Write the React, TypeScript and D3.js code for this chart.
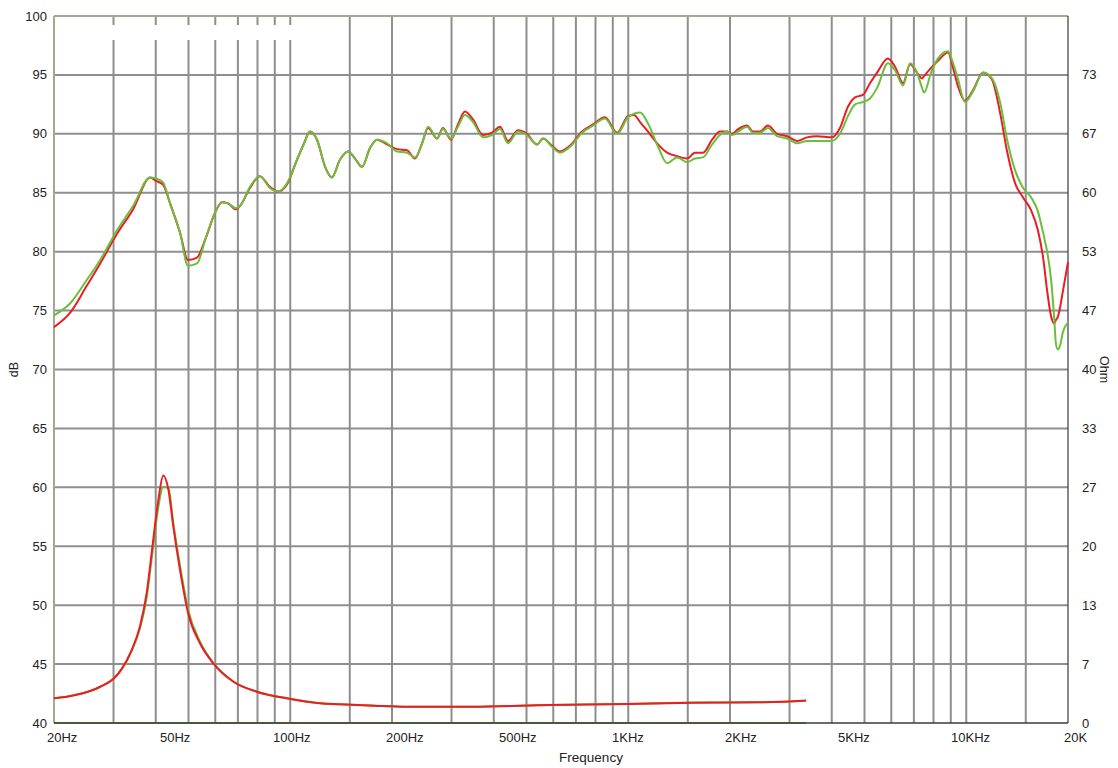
import React from "react";
import * as d3 from "d3";

// ---------- data ----------
const SPL_FREQ = [
  20, 22.3, 25.0, 27.4, 30.7, 34.3, 38.5, 40.1, 42.0, 44.1,
  47.2, 49.8, 53.0, 56.3, 59.9, 62.8, 65.4, 69.1, 71.5, 76.0,
  81.3, 87.1, 92.0, 97.8, 104.7, 109.9, 114.3, 120, 126.8, 132.8,
  140.3, 148.3, 155.5, 163, 172.2, 180.6, 193.3, 207, 221.5, 234,
  245.5, 255.8, 271.9, 283, 299, 313.4, 328.8, 347.5, 371.8, 395.3,
  417.4, 440.8, 472, 501, 537, 560, 594.5, 628, 673, 730,
  787, 853, 927, 998, 1040, 1084, 1143, 1225, 1303, 1395,
  1493, 1575, 1664, 1770, 1867, 1959, 2028, 2114, 2245, 2340,
  2456, 2590, 2756, 2952, 3158, 3380, 3615, 4008, 4230, 4466,
  4690, 4947, 5190, 5448, 5866, 6156, 6501, 6820, 7150, 7400,
  7500, 7870, 8250, 8835, 9140, 9460, 9910, 10470, 11220, 11920,
  12590, 13210, 13950, 14730, 15560, 16300, 16880, 17350, 17830, 18200,
  18420, 18680, 18930, 19330, 20000,
];

const SPL_RED = [
  73.6, 74.8, 77.1, 79.0, 81.5, 83.6, 86.3, 86.0, 85.7, 84.1,
  81.6, 79.3, 79.5, 81.2, 83.3, 84.2, 84.1, 83.6, 84.0, 85.4,
  86.4, 85.5, 85.1, 85.7, 87.8, 89.2, 90.2, 89.5, 87.2, 86.3,
  87.8, 88.5, 87.9, 87.2, 88.8, 89.5, 89.1, 88.7, 88.6, 87.9,
  89.2, 90.5, 89.6, 90.5, 89.5, 90.8, 91.9, 91.2, 89.9, 90.1,
  90.6, 89.4, 90.3, 90.0, 89.1, 89.6, 89.0, 88.5, 89.0, 90.2,
  90.8, 91.4, 90.1, 91.5, 91.6, 91.0, 90.2, 89.1, 88.4, 88.1,
  87.9, 88.4, 88.4, 89.5, 90.2, 90.2, 90.0, 90.4, 90.7, 90.2,
  90.2, 90.7, 90.0, 89.8, 89.4, 89.7, 89.8, 89.7, 90.5, 92.3,
  93.1, 93.3, 94.3, 95.2, 96.4, 95.7, 94.3, 95.9, 95.2, 94.7,
  94.9, 95.6, 96.2, 96.9, 95.6, 94.0, 92.8, 93.7, 95.2, 94.6,
  91.8, 88.5, 85.8, 84.6, 83.5, 81.8, 79.5, 76.7, 74.5, 73.9,
  74.2, 74.5, 75.2, 76.7, 79.1,
];

const SPL_GREEN = [
  74.6, 75.6, 77.6, 79.3, 81.8, 83.9, 86.3, 86.2, 85.9, 84.1,
  81.6, 78.8, 79.0, 81.2, 83.3, 84.2, 84.1, 83.7, 84.0, 85.5,
  86.4, 85.4, 85.1, 85.8, 87.8, 89.2, 90.2, 89.5, 87.2, 86.3,
  87.8, 88.5, 87.9, 87.2, 88.8, 89.5, 89.2, 88.5, 88.4, 88.0,
  89.2, 90.6, 89.6, 90.4, 89.6, 90.6, 91.6, 91.0, 89.7, 89.9,
  90.4, 89.2, 90.2, 89.9, 89.1, 89.6, 88.9, 88.4, 88.9, 90.1,
  90.7, 91.3, 90.0, 91.4, 91.7, 91.8, 90.9, 88.9, 87.5, 88.0,
  87.6, 87.9, 88.0, 89.1, 89.9, 90.2, 89.9, 90.2, 90.6, 90.1,
  90.1, 90.5, 89.8, 89.6, 89.2, 89.4, 89.4, 89.4, 90.0, 91.5,
  92.5, 92.7, 93.0, 93.9, 96.0, 95.4, 94.1, 96.0, 95.2, 93.9,
  93.5, 95.2, 96.4, 97.0, 96.0, 94.6, 92.7, 93.6, 95.2, 94.7,
  92.7, 89.5, 86.9, 85.4, 84.6, 83.4, 81.6, 80.0, 77.6, 74.4,
  72.2, 71.7, 72.0, 73.2, 74.0,
];

const IMP_FREQ = [
  20, 22, 24, 27.4, 30, 31.7, 33.9, 35.9, 37.6, 39.2,
  40.7, 42.1, 43.6, 45.1, 47.2, 49.9, 54.1, 59.2, 67.9, 79.6,
  97.6, 122.5, 140, 176, 221, 347, 587, 989, 1555, 2455,
  3290, 3360,
];
const IMP_RED = [
  2.8, 3.0, 3.3, 4.1, 5.0, 6.1, 8.2, 10.9, 14.7, 20.3,
  25.2, 28.0, 26.4, 22.2, 17.3, 12.4, 9.0, 6.75, 4.67, 3.54,
  2.79, 2.23, 2.12, 1.96, 1.84, 1.84, 2.04, 2.15, 2.30, 2.34,
  2.52, 2.55,
];
const IMP_GREEN = [
  2.8, 3.0, 3.3, 4.1, 5.0, 6.1, 8.1, 10.7, 14.2, 19.6,
  24.4, 26.7, 26.6, 22.6, 17.8, 12.8, 9.2, 6.8, 4.7, 3.55,
  2.8, 2.24, 2.12, 1.97, 1.85, 1.85, 2.05, 2.16, 2.31, 2.35,
  2.53, 2.56,
];
const ZERO_FREQ = [20, 3360];
const ZERO_VAL = [0, 0];

const DB_TICKS = [40, 45, 50, 55, 60, 65, 70, 75, 80, 85, 90, 95, 100];
const OHM_TICKS = [0, 6.67, 13.33, 20, 26.67, 33.33, 40, 46.67, 53.33, 60, 66.67, 73.33];
const X_LABELS = ["20Hz", "50Hz", "100Hz", "200Hz", "500Hz", "1KHz", "2KHz", "5KHz", "10KHz", "20K"];
const GRID_FREQS = [
  30, 40, 50, 60, 70, 80, 90, 100, 150, 200, 300, 400, 500, 600, 700, 800, 900,
  1000, 1500, 2000, 3000, 4000, 5000, 6000, 7000, 8000, 9000, 10000, 15000,
];

// ---------- layout ----------
const W = 1118;
const H = 768;
const L = 54, R = 1068, T = 16, B = 723;
const RED = "#ec1c24";
const GREEN = "#6abf3c";
const GRID = "#8e8e8e";
const FONT = "'Liberation Sans', Arial, sans-serif";

export default function App() {
  const x = d3.scaleLog().domain([20, 20000]).range([L, R]);
  const y = d3.scaleLinear().domain([40, 100]).range([B, T]);
  const yo = d3.scaleLinear().domain([0, 80]).range([B, T]);
  const xl = d3.scalePoint<string>().domain(X_LABELS).range([47, 1064]);

  const mk = (fs: number[], vs: number[], sc: d3.ScaleLinear<number, number>) =>
    d3
      .line<number>()
      .x((_, i) => x(fs[i]))
      .y((v) => sc(v))
      .curve(d3.curveMonotoneX)(vs) || "";

  return (
    <svg
      width={W}
      height={H}
      style={{ position: "absolute", left: 0, top: 0, background: "#fff" }}
      fontFamily={FONT}
    >
      <rect x={0} y={0} width={W} height={H} fill="#fff" />
      {/* horizontal grid */}
      {DB_TICKS.filter((d) => d > 40 && d < 100).map((d) => (
        <line key={"h" + d} x1={L} x2={R} y1={y(d)} y2={y(d)} stroke={GRID} strokeWidth={2} />
      ))}
      {/* vertical grid */}
      {GRID_FREQS.map((f) => (
        <line key={"v" + f} x1={x(f)} x2={x(f)} y1={T} y2={B} stroke={GRID} strokeWidth={2} />
      ))}
      {/* empty legend box */}
      <rect x={62} y={25} width={236} height={15} fill="#fff" />
      {/* frame */}
      <line x1={L} x2={R} y1={T} y2={T} stroke="#aaa68e" strokeWidth={2} />
      <line x1={L} x2={L} y1={T} y2={B} stroke="#aaa68e" strokeWidth={2} />
      <line x1={R} x2={R} y1={T} y2={B} stroke="#3a3a3a" strokeWidth={1.2} />

      {/* curves */}
      <path d={mk(ZERO_FREQ, ZERO_VAL, yo)} fill="none" stroke={GREEN} strokeWidth={2} />
      <path d={mk(IMP_FREQ, IMP_GREEN, yo)} fill="none" stroke={GREEN} strokeWidth={2} />
      <path d={mk(IMP_FREQ, IMP_RED, yo)} fill="none" stroke={RED} strokeWidth={2} />
      <path d={mk(SPL_FREQ, SPL_RED, y)} fill="none" stroke={RED} strokeWidth={2} />
      <path d={mk(SPL_FREQ, SPL_GREEN, y)} fill="none" stroke={GREEN} strokeWidth={2} />

      <line x1={L} x2={R} y1={B} y2={B} stroke="#3a3a3a" strokeWidth={1.5} />

      {/* left labels */}
      {DB_TICKS.map((d) => (
        <text key={"l" + d} x={47} y={y(d)} dy="0.35em" textAnchor="end" fontSize={13} fill="#222">
          {d}
        </text>
      ))}
      {/* right labels */}
      {OHM_TICKS.map((d) => (
        <text key={"r" + d} x={1082} y={yo(d)} dy="0.35em" textAnchor="start" fontSize={13} fill="#222">
          {Math.round(d)}
        </text>
      ))}
      {/* x labels */}
      {X_LABELS.map((s) => (
        <text key={s} x={xl(s)} y={742} textAnchor="start" fontSize={13} fill="#222">
          {s}
        </text>
      ))}
      <text x={591} y={762} textAnchor="middle" fontSize={13.5} fill="#222">
        Frequency
      </text>
      <text transform={`translate(18,${(T + B) / 2}) rotate(-90)`} textAnchor="middle" fontSize={12.5} fill="#222">
        dB
      </text>
      <text transform={`translate(1100,${(T + B) / 2}) rotate(90)`} textAnchor="middle" fontSize={12.5} fill="#222">
        Ohm
      </text>
    </svg>
  );
}
